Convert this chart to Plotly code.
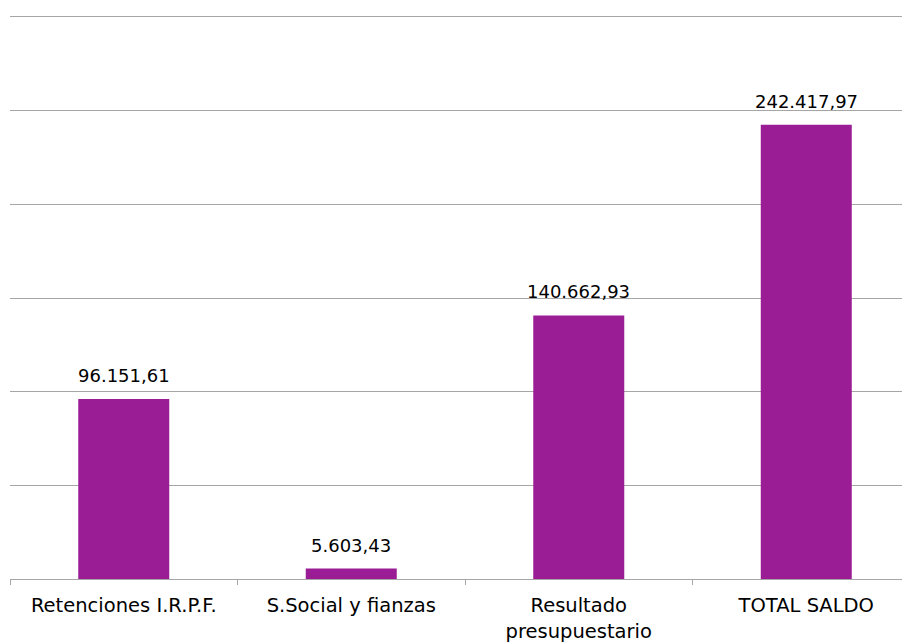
import plotly.graph_objects as go

categorias = ["Retenciones I.R.P.F.", "S.Social y fianzas", "Resultado<br>presupuestario", "TOTAL SALDO"]
valores = [96151.61, 5603.43, 140662.93, 242417.97]
etiquetas = ["96.151,61", "5.603,43", "140.662,93", "242.417,97"]

color_barra = "#9B1D96"
gris = "#A6A6A6"
fuente = "Tahoma, DejaVu Sans, sans-serif"

fig = go.Figure()
fig.add_trace(go.Bar(x=categorias, y=valores, marker=dict(color=color_barra, line=dict(width=0))))

# etiquetas de valor encima de cada barra
for cat, val, txt in zip(categorias, valores, etiquetas):
    fig.add_annotation(x=cat, y=val, text=txt, showarrow=False, yanchor="bottom", yshift=11,
                       font=dict(family=fuente, size=18, color="#000000"))

fig.update_layout(
    width=902, height=634,
    margin=dict(l=2, r=0, t=9, b=63),
    plot_bgcolor="white", paper_bgcolor="white",
    bargap=0.6, showlegend=False,
    font=dict(family=fuente, size=19.5, color="#000000"),
)
fig.update_xaxes(range=[-0.5, 3.456], tickson="boundaries", ticks="outside", ticklen=5,
                 tickcolor=gris, showline=True, mirror=True, linecolor=gris, linewidth=1,
                 showgrid=False, ticklabelstandoff=9)
fig.update_yaxes(range=[0, 300000], dtick=50000, showticklabels=False, showgrid=True,
                 gridcolor=gris, gridwidth=1, zeroline=False)

fig.write_html("out.html")
